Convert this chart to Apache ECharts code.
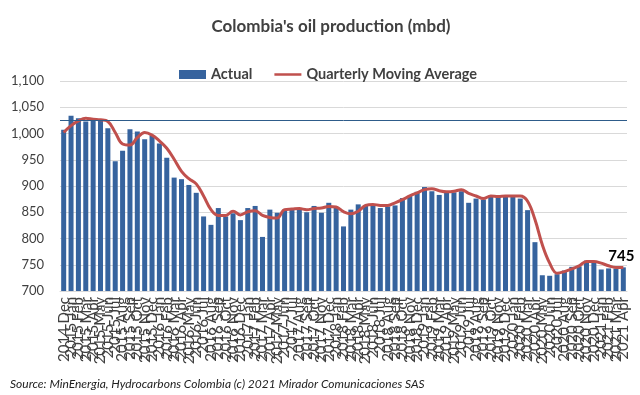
<!DOCTYPE html>
<html>
<head>
<meta charset="utf-8">
<script src="https://cdn.jsdelivr.net/npm/echarts@6/dist/echarts.min.js"></script>
<style>
html,body{margin:0;padding:0;background:#fff;}
#c{width:640px;height:395px;}
</style>
</head>
<body>
<div id="c"></div>
<script>
const categories = ['2014 Dec',
 '2015 Jan','2015 Feb','2015 Mar','2015 Apr','2015 May','2015 Jun','2015 Jul','2015 Aug','2015 Sep','2015 Oct','2015 Nov','2015 Dec',
 '2016 Jan','2016 Feb','2016 Mar','2016 Apr','2016 May','2016 Jun','2016 Jul','2016 Aug','2016 Sep','2016 Oct','2016 Nov','2016 Dec',
 '2017 Jan','2017 Feb','2017 Mar','2017 Apr','2017 May','2017 Jun','2017 Jul','2017 Aug','2017 Sep','2017 Oct','2017 Nov','2017 Dec',
 '2018 Jan','2018 Feb','2018 Mar','2018 Apr','2018 May','2018 Jun','2018 Jul','2018 Aug','2018 Sep','2018 Oct','2018 Nov','2018 Dec',
 '2019 Jan','2019 Feb','2019 Mar','2019 Apr','2019 May','2019 Jun','2019 Jul','2019 Aug','2019 Sep','2019 Oct','2019 Nov','2019 Dec',
 '2020 Jan','2020 Feb','2020 Mar','2020 Apr','2020 May','2020 Jun','2020 Jul','2020 Aug','2020 Sep','2020 Oct','2020 Nov','2020 Dec',
 '2021 Jan','2021 Feb','2021 Mar','2021 Apr'];

const actual = [1007,
 1034,1029,1023,1026,1024,1010,947,967,1008,1004,989,996,
 981,954,916,913,902,887,842,826,858,842,848,835,
 858,862,803,855,849,855,855,858,850,862,849,868,
 860,823,855,865,863,863,858,861,863,877,881,889,
 898,890,883,887,888,890,868,876,874,882,879,879,
 879,876,854,793,730,729,732,739,746,747,758,755,
 741,743,743,745];

const movingAvg = [1002,
 1015,1024,1029,1027,1026,1023,1002,980,978,992,1002,997,
 986,972,951,928,914,904,881,855,844,844,852,845,
 851,853,844,840,839,855,856,857,855,857,858,861,
 860,851,847,852,863,865,863,863,868,874,881,887,
 893,895,891,889,890,893,886,881,876,881,880,881,
 881,881,871,836,788,753,734,737,742,748,756,756,
 753,748,745,745];

const yTicks = [700, 750, 800, 850, 900, 950, 1000, 1050, 1100];
const refLine = 1026;
const lastLabel = '745';

const barData = actual.map((v, i) => i === actual.length - 1
  ? {value: v, label: {show: true, position: 'top', formatter: lastLabel, color: '#000', fontWeight: 'bold', fontSize: 15, fontFamily: 'Lato', offset: [-2, 1]}}
  : v);

const lineIcon = 'path://M0,0 L0.01,0 L0,0.01 Z M0,3.6 L30,3.6 L30,6.4 L0,6.4 Z M0,10 L0.01,10 L0,9.99 Z';

const chart = echarts.init(document.getElementById('c'), null, {renderer: 'canvas'});
chart.setOption({
  animation: false,
  backgroundColor: '#fff',
  title: {
    text: "Colombia's oil production (mbd)",
    left: 326, top: 13, textAlign: 'center',
    textStyle: {fontFamily: 'Lato', fontWeight: 'bold', fontSize: 17, color: '#404040'}
  },
  legend: {
    top: 62, left: 174,
    itemGap: 22, itemWidth: 27, itemHeight: 9,
    symbolKeepAspect: false,
    textStyle: {fontFamily: 'Lato', fontSize: 14.5, fontWeight: 'bold', color: '#404040'},
    data: [
      {name: 'Actual', icon: 'rect'},
      {name: 'Quarterly Moving Average', icon: lineIcon, itemStyle: {color: '#c0504d'}}
    ]
  },
  grid: {left: 60, right: 13, top: 81, bottom: 104, containLabel: false},
  xAxis: {
    type: 'category',
    data: categories,
    boundaryGap: true,
    axisLine: {show: true, lineStyle: {color: '#d9d9d9'}},
    axisTick: {show: false},
    axisLabel: {
      interval: 0, rotate: 90, fontFamily: 'Lato', fontSize: 15, color: '#404040', margin: 6
    }
  },
  yAxis: {
    type: 'value',
    min: yTicks[0], max: yTicks[yTicks.length - 1], interval: 50,
    axisLine: {show: false},
    axisTick: {show: false},
    splitLine: {lineStyle: {color: '#d9d9d9', width: 1}},
    axisLabel: {
      fontFamily: 'Lato', fontSize: 13, color: '#404040', margin: 16,
      formatter: v => v.toLocaleString('en-US')
    }
  },
  series: [
    {
      name: 'Actual', type: 'bar', data: barData,
      barCategoryGap: '32%',
      itemStyle: {color: '#36639e'},
      markLine: {
        silent: true, symbol: 'none', label: {show: false},
        lineStyle: {color: '#2e5c8a', width: 1, type: 'solid'},
        data: [{yAxis: refLine}]
      },
      z: 2
    },
    {
      name: 'Quarterly Moving Average', type: 'line', data: movingAvg,
      symbol: 'none', smooth: 0.4,
      lineStyle: {color: '#c0504d', width: 3},
      itemStyle: {color: '#c0504d'},
      z: 3
    }
  ],
  graphic: [{
    type: 'text', left: 10, top: 378,
    style: {
      text: 'Source: MinEnergia, Hydrocarbons Colombia (c) 2021 Mirador Comunicaciones SAS',
      font: 'italic 12px Lato', fill: '#222'
    }
  }]
});
</script>
</body>
</html>
